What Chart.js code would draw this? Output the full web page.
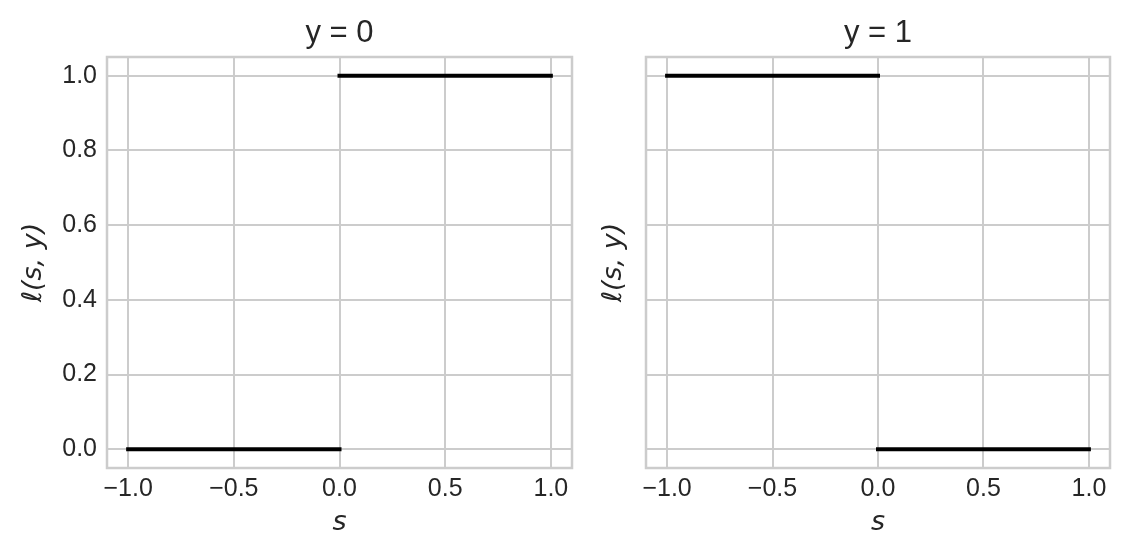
<!DOCTYPE html>
<html>
<head>
<meta charset="utf-8">
<script src="https://cdn.jsdelivr.net/npm/chart.js@4/dist/chart.umd.min.js"></script>
<style>
  html, body { margin: 0; padding: 0; background: #fff; }
  #wrap { position: relative; width: 1129px; height: 555px; }
  canvas { position: absolute; top: 0; }
</style>
</head>
<body>
<div id="wrap">
  <canvas id="left" width="590" height="555" style="left:0"></canvas>
  <canvas id="right" width="539" height="555" style="left:590px"></canvas>
</div>
<script>
// 0-1 loss, drawn as two flat pieces per panel
const panelTitles = ['y = 0', 'y = 1'];
const sNeg = [-1.0, 0.0];
const sPos = [0.0, 1.0];
const lossY0Neg = [0, 0];
const lossY0Pos = [1, 1];
const lossY1Neg = [1, 1];
const lossY1Pos = [0, 0];
const xTicks = [-1.0, -0.5, 0.0, 0.5, 1.0];
const yTicks = [0.0, 0.2, 0.4, 0.6, 0.8, 1.0];

const GRID = '#cccccc';
const TEXT = '#262626';
const SANS = "'Liberation Sans', Arial, sans-serif";

const fmt = v => (v < 0 ? '\u2212' : '') + Math.abs(v).toFixed(1);
const pts = (xs, ys) => xs.map((x, i) => ({ x: x, y: ys[i] }));

// frame + title drawn around the chart area
const framePlugin = {
  id: 'frame',
  afterDraw(chart, args, opts) {
    const { ctx, chartArea: a } = chart;
    ctx.save();
    ctx.strokeStyle = GRID;
    ctx.lineWidth = 2.5;
    ctx.strokeRect(a.left, a.top, a.right - a.left, a.bottom - a.top);
    ctx.fillStyle = TEXT;
    ctx.font = '31px ' + SANS;
    ctx.textAlign = 'center';
    ctx.textBaseline = 'middle';
    ctx.fillText(opts.title, (a.left + a.right) / 2, 33);
    ctx.restore();
  }
};

function makePanel(id, title, negY, posY, axisWidth, showYTicks, yTitlePad, rightPad) {
  const lineStyle = {
    borderColor: '#000000',
    borderWidth: 4,
    borderCapStyle: 'square',
    pointRadius: 0,
    fill: false,
    tension: 0
  };
  new Chart(document.getElementById(id), {
    type: 'line',
    data: {
      datasets: [
        Object.assign({ data: pts(sNeg, negY) }, lineStyle),
        Object.assign({ data: pts(sPos, posY) }, lineStyle)
      ]
    },
    plugins: [framePlugin],
    options: {
      responsive: false,
      animation: false,
      layout: { padding: { top: 57, right: rightPad, left: 0, bottom: 0 } },
      plugins: {
        legend: { display: false },
        tooltip: { enabled: false },
        frame: { title: title }
      },
      scales: {
        x: {
          type: 'linear',
          min: -1.1,
          max: 1.1,
          afterBuildTicks: s => { s.ticks = xTicks.map(v => ({ value: v })); },
          afterFit: s => { s.height = 87; },
          grid: { color: GRID, lineWidth: 2, drawTicks: false },
          border: { display: false },
          ticks: { color: TEXT, font: { family: SANS, size: 25 }, padding: 6, maxRotation: 0, callback: fmt },
          title: {
            display: true,
            text: 's',
            color: TEXT,
            font: { family: 'DejaVu Sans', size: 27, style: 'italic', lineHeight: 1.2 },
            padding: { top: 0, bottom: 16 }
          }
        },
        y: {
          type: 'linear',
          min: -0.05,
          max: 1.05,
          afterBuildTicks: s => { s.ticks = yTicks.map(v => ({ value: v })); },
          afterFit: s => { s.width = axisWidth; },
          grid: { color: GRID, lineWidth: 2, drawTicks: false },
          border: { display: false },
          ticks: { display: showYTicks, color: TEXT, font: { family: SANS, size: 25 }, padding: 10, callback: fmt },
          title: {
            display: true,
            text: '\u2113(s, y)',
            color: TEXT,
            font: { family: 'DejaVu Sans', size: 27, style: 'italic', lineHeight: 1.2 },
            padding: { top: yTitlePad, bottom: 0 }
          }
        }
      }
    }
  });
}

makePanel('left', panelTitles[0], lossY0Neg, lossY0Pos, 107, true, 18, 18);
makePanel('right', panelTitles[1], lossY1Neg, lossY1Pos, 56, false, 8, 19);
</script>
</body>
</html>
